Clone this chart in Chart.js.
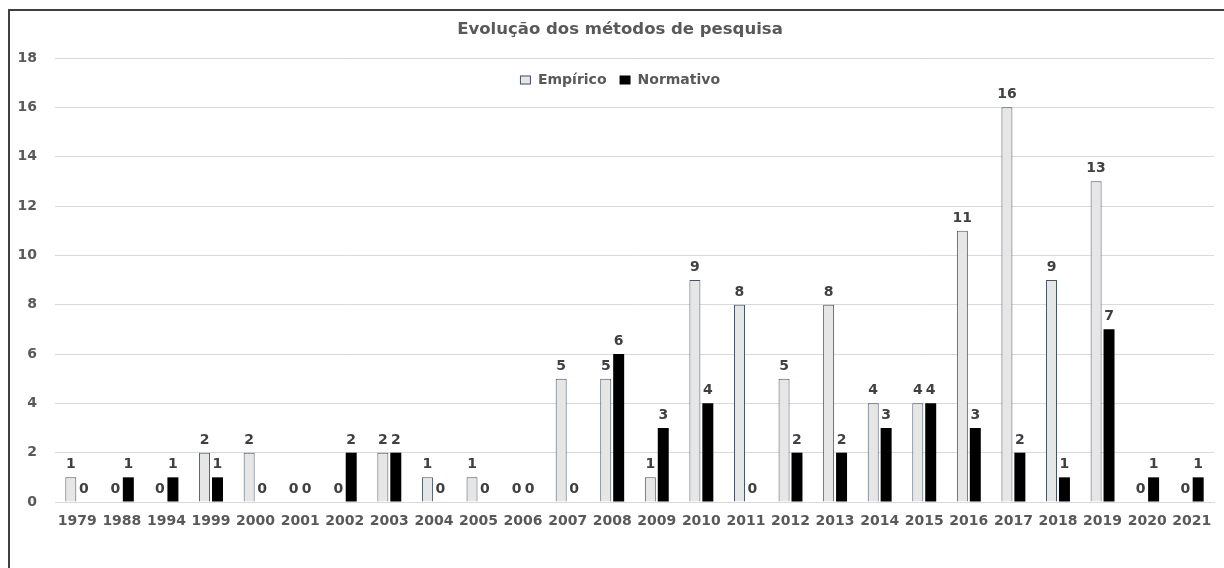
<!DOCTYPE html>
<html>
<head>
<meta charset="utf-8">
<script src="https://cdn.jsdelivr.net/npm/chart.js@4"></script>
<style>
  html, body { margin: 0; padding: 0; background: #fff; overflow: hidden; }
  #frame { position: absolute; left: 8px; top: 9px; width: 1400px; height: 700px;
           border-top: 2px solid #404040; border-left: 2px solid #404040; }
  #wrap { position: absolute; left: 0; top: 0; width: 1224px; height: 568px; }
</style>
</head>
<body>
<div id="frame"></div>
<div id="wrap"><canvas id="chart"></canvas></div>
<script>
// anos e valores
const anos = ["1979", "1988", "1994", "1999", "2000", "2001", "2002", "2003", "2004", "2005",
              "2006", "2007", "2008", "2009", "2010", "2011", "2012", "2013", "2014", "2015",
              "2016", "2017", "2018", "2019", "2020", "2021"];
const empirico  = [1, 0, 0, 2, 2, 0, 0, 2, 1, 1, 0, 5, 5, 1, 9, 8, 5, 8, 4, 4, 11, 16, 9, 13, 0, 0];
const normativo = [0, 1, 1, 1, 0, 0, 2, 2, 0, 0, 0, 0, 6, 3, 4, 0, 2, 2, 3, 4, 3, 2, 1, 7, 1, 1];
const yTicks = [0, 2, 4, 6, 8, 10, 12, 14, 16, 18];
const titulo = 'Evolução dos métodos de pesquisa';

const fonte = "'DejaVu Sans', Verdana, sans-serif";
const centroX = 620;

// rótulos de valor em cima das barras
const valorLabels = {
  id: 'valorLabels',
  afterDatasetsDraw(chart) {
    const ctx = chart.ctx;
    ctx.save();
    ctx.font = "bold 14px " + fonte;
    ctx.fillStyle = '#404040';
    ctx.textAlign = 'center';
    ctx.textBaseline = 'alphabetic';
    chart.data.datasets.forEach((ds, i) => {
      chart.getDatasetMeta(i).data.forEach((bar, j) => {
        ctx.fillText(String(ds.data[j]), bar.x, bar.y - 9);
      });
    });
    ctx.restore();
  }
};

// título e legenda (legenda na horizontal, dentro da área do gráfico)
const tituloLegenda = {
  id: 'tituloLegenda',
  afterDatasetsDraw(chart) {
    const ctx = chart.ctx;
    ctx.save();
    ctx.fillStyle = '#595959';
    ctx.textAlign = 'center';
    ctx.textBaseline = 'middle';
    ctx.font = "bold 16.5px " + fonte;
    ctx.fillText(titulo, centroX, 30);

    const y = 80;
    ctx.font = "bold 14px " + fonte;
    ctx.textAlign = 'left';
    const dss = chart.data.datasets;
    const box = 11, gap = 7, esp = 13;
    let total = 0;
    dss.forEach((ds, i) => {
      total += box + gap + ctx.measureText(ds.label).width + (i < dss.length - 1 ? esp : 0);
    });
    let x = centroX - total / 2;
    dss.forEach(ds => {
      ctx.fillStyle = ds.backgroundColor;
      ctx.fillRect(x, y - 4.5, box, 9);
      if (ds.borderWidth) {
        ctx.strokeStyle = ds.borderColor;
        ctx.lineWidth = 1;
        ctx.strokeRect(x + 0.5, y - 4, box - 1, 8);
      }
      x += box + gap;
      ctx.fillStyle = '#595959';
      ctx.fillText(ds.label, x, y);
      x += ctx.measureText(ds.label).width + esp;
    });
    ctx.restore();
  }
};

new Chart(document.getElementById('chart'), {
  type: 'bar',
  data: {
    labels: anos,
    datasets: [
      {
        label: 'Empírico',
        data: empirico,
        backgroundColor: '#E7E6E6',
        borderColor: '#44546A',
        borderWidth: 1,
        categoryPercentage: 0.58,
        barPercentage: 0.85
      },
      {
        label: 'Normativo',
        data: normativo,
        backgroundColor: '#000000',
        borderColor: '#000000',
        borderWidth: 0,
        categoryPercentage: 0.58,
        barPercentage: 0.85
      }
    ]
  },
  options: {
    responsive: true,
    maintainAspectRatio: false,
    animation: false,
    layout: { padding: { left: 10, right: 10, top: 58, bottom: 0 } },
    plugins: {
      legend: { display: false },
      tooltip: { enabled: false }
    },
    scales: {
      x: {
        grid: { display: false, drawTicks: false },
        border: { color: '#D9D9D9' },
        ticks: {
          color: '#595959',
          font: { family: fonte, size: 14, weight: 'bold' },
          padding: 11,
          autoSkip: false,
          maxRotation: 0
        },
        afterFit(s) { s.height = 66; }
      },
      y: {
        min: 0,
        max: 18,
        grid: { color: '#D9D9D9', drawTicks: false },
        border: { display: false },
        afterBuildTicks(s) { s.ticks = yTicks.map(v => ({ value: v })); },
        ticks: {
          color: '#595959',
          font: { family: fonte, size: 14, weight: 'bold' },
          padding: 18
        },
        afterFit(s) { s.width = 45; }
      }
    }
  },
  plugins: [valorLabels, tituloLegenda]
});
</script>
</body>
</html>
